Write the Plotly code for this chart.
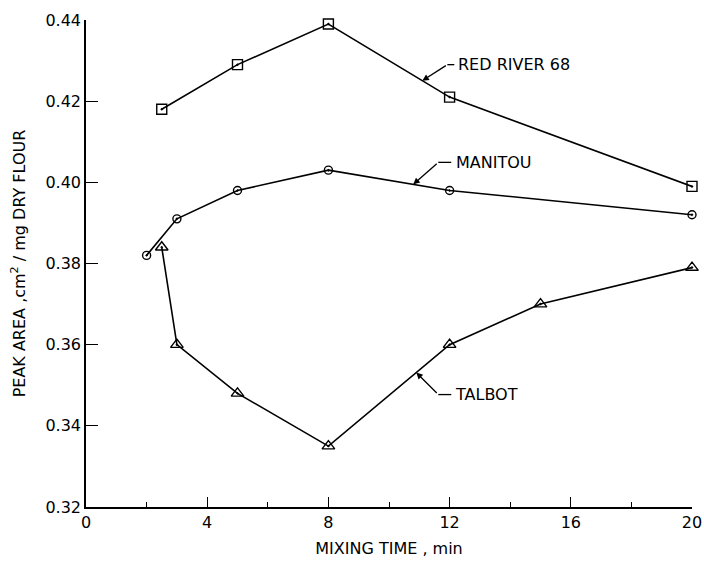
import numpy as np
import plotly.graph_objects as go

# ---- data ----
red_x = [2.5, 5, 8, 12, 20]
red_y = [0.418, 0.429, 0.439, 0.421, 0.399]
man_x = [2, 3, 5, 8, 12, 20]
man_y = [0.382, 0.391, 0.398, 0.403, 0.398, 0.392]
tal_x = [2.5, 3, 5, 8, 12, 15, 20]
tal_y = [0.384, 0.360, 0.348, 0.335, 0.360, 0.370, 0.379]

series_names = ["RED RIVER 68", "MANITOU", "TALBOT"]
x_ticks = [0, 4, 8, 12, 16, 20]
y_ticks = [0.32, 0.34, 0.36, 0.38, 0.40, 0.42, 0.44]

# ---- styling / label placement ----
FONT = "DejaVu Sans"
symbols = ["square-open-dot", "circle-open-dot", "triangle-up-open-dot"]
msizes = [10, 8, 11]
# label leader: x on the curve where arrow points, (bend dx, dy), horizontal end dx, text dx  (pixels)
leader = [
    (11.1, 25, 16, 32, 34),
    (10.8, 25, 22, 38, 41),
    (10.9, 22, -22, 35, 37),
]

xs = [red_x, man_x, tal_x]
ys = [red_y, man_y, tal_y]

fig = go.Figure()
for name, x, y, sym, ms in zip(series_names, xs, ys, symbols, msizes):
    fig.add_trace(go.Scatter(
        x=x, y=y, mode="lines+markers", name=name,
        line=dict(color="black", width=1.6),
        marker=dict(symbol=sym, size=ms, color="black",
                    line=dict(color="black", width=1.4)),
        cliponaxis=False, showlegend=False,
    ))

annotations = []
shapes = []
for name, x, y, (hx, bdx, bdy, edx, tdx) in zip(series_names, xs, ys, leader):
    hy = float(np.interp(hx, x, y))
    annotations.append(dict(
        x=hx, y=hy, xref="x", yref="y", text="", showarrow=True,
        ax=bdx, ay=-bdy, arrowhead=2, arrowsize=1.0, arrowwidth=1.3,
        arrowcolor="black", standoff=0,
    ))
    shapes.append(dict(
        type="line", xref="x", yref="y", xsizemode="pixel", ysizemode="pixel",
        xanchor=hx, yanchor=hy, x0=bdx, x1=edx, y0=bdy, y1=bdy,
        line=dict(color="black", width=1.3),
    ))
    annotations.append(dict(
        x=hx, y=hy, xref="x", yref="y", text=name, showarrow=False,
        xanchor="left", yanchor="middle", xshift=tdx, yshift=bdy,
        font=dict(family=FONT, size=16, color="black"),
    ))

fig.update_layout(
    width=704, height=565,
    margin=dict(l=86, r=12, t=20, b=58, autoexpand=False),
    paper_bgcolor="white", plot_bgcolor="white",
    font=dict(family=FONT, size=16, color="black"),
    annotations=annotations, shapes=shapes,
)
fig.update_xaxes(
    range=[0, 20], tickvals=x_ticks, ticktext=[str(v) for v in x_ticks],
    showline=True, linecolor="black", linewidth=1.6, showgrid=False, zeroline=False,
    ticks="inside", ticklen=10, tickwidth=1.4, tickcolor="black",
    minor=dict(dtick=2, ticks="inside", ticklen=5, tickwidth=1.2, tickcolor="black", showgrid=False),
    tickfont=dict(family=FONT, size=16), automargin=False,
    title=dict(text="MIXING TIME , min", font=dict(family=FONT, size=16), standoff=12),
)
fig.update_yaxes(
    range=[0.32, 0.44], tickvals=y_ticks, ticktext=[f"{v:.2f}" for v in y_ticks],
    showline=True, linecolor="black", linewidth=1.6, showgrid=False, zeroline=False,
    ticks="inside", ticklen=12, tickwidth=1.4, tickcolor="black",
    tickfont=dict(family=FONT, size=16), automargin=False,
    title=dict(text="PEAK AREA ,cm<sup>2</sup> / mg DRY FLOUR", font=dict(family=FONT, size=16), standoff=16),
)

# remove the page's default body margin so the 704x565 figure fills the window exactly
fig.write_html(
    "out.html",
    config={"displayModeBar": False},
    post_script="document.body.style.margin='0';document.body.style.overflow='hidden';",
)
